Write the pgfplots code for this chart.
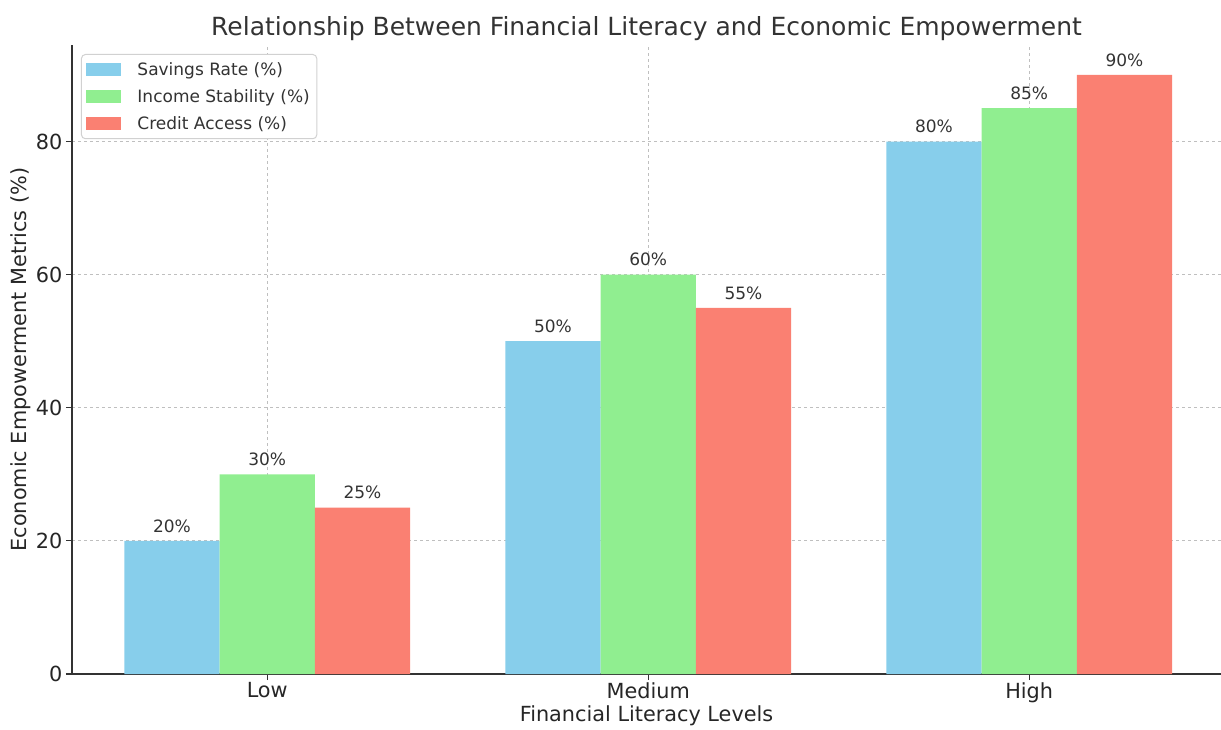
\documentclass[border=0pt]{standalone}
\usepackage{fontspec}
\setmainfont{DejaVu Sans}
\usepackage{pgfplots}
\pgfplotsset{compat=1.18}
\definecolor{skyb}{HTML}{87CEEB}
\definecolor{lgreen}{HTML}{90EE90}
\definecolor{salmonc}{HTML}{FA8072}
\definecolor{txt}{HTML}{333333}
\begin{document}
\begin{tikzpicture}
\path[use as bounding box] (-72pt,-55pt) rectangle (1149pt,674pt);
\begin{axis}[
  at={(0pt,0pt)}, anchor=south west,
  scale only axis, width=1149pt, height=629pt,
  xmin=-0.5125, xmax=2.5035, ymin=0, ymax=94.5,
  axis x line*=bottom, axis y line*=left,
  axis line style={line width=1.4pt, color=txt, -},
  xtick={0,1,2}, xticklabels={Low,Medium,High},
  ytick={0,20,40,60,80},
  tick align=outside, major tick length=6pt,
  tick style={line width=1.2pt, color=txt},
  /pgf/number format/assume math mode=true,
  ticklabel style={font=\fontsize{20.8}{25}\selectfont, color=black!85},
  xticklabel style={yshift=1pt},
  grid=major,
  major grid style={dashed, color=black!25, line width=0.9pt},
  title={Relationship Between Financial Literacy and Economic Empowerment},
  title style={font=\fontsize{25}{30}\selectfont, color=txt, yshift=-5pt},
  xlabel={Financial Literacy Levels},
  ylabel={Economic Empowerment Metrics (\%)},
  label style={font=\fontsize{20.8}{25}\selectfont, color=black!85},
  xlabel style={yshift=4pt},
  ylabel style={yshift=-2pt},
  legend cell align=left,
  legend style={at={(0.0078,0.9857)}, anchor=north west,
    font=\fontsize{17}{20}\selectfont, text=txt,
    draw=black!18, line width=1pt, rounded corners=4pt,
    inner xsep=5pt, inner ysep=6pt, row sep=8.5pt, column sep=14pt},
  legend image code/.code={\fill[#1, sharp corners] (0pt,-6.5pt) rectangle (35pt,6.5pt);},
  nodes near coords={\pgfmathprintnumber{\pgfplotspointmeta}\%},
  every node near coord/.append style={font=\fontsize{17}{20}\selectfont, color=txt, anchor=south, yshift=5pt},
]
\addplot[ybar, bar width=0.25, bar shift=0, fill=skyb, draw=none] coordinates {(-0.25,20) (0.75,50) (1.75,80)};
\addlegendentry{Savings Rate (\%)}
\addplot[ybar, bar width=0.25, bar shift=0, fill=lgreen, draw=none] coordinates {(0,30) (1,60) (2,85)};
\addlegendentry{Income Stability (\%)}
\addplot[ybar, bar width=0.25, bar shift=0, fill=salmonc, draw=none] coordinates {(0.25,25) (1.25,55) (2.25,90)};
\addlegendentry{Credit Access (\%)}
\end{axis}
\end{tikzpicture}
\end{document}
